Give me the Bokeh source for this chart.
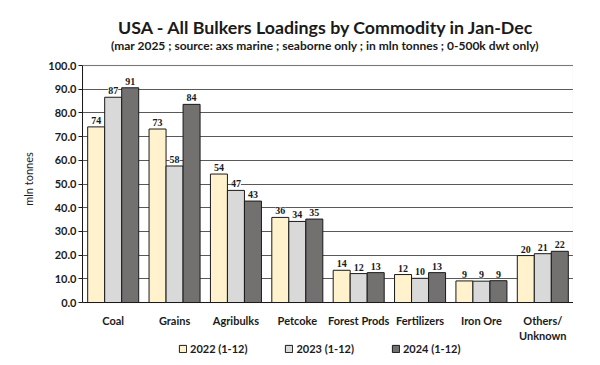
from bokeh.plotting import figure
from bokeh.models import (ColumnDataSource, LabelSet, Label, Legend, LegendItem, Title,
                          NumeralTickFormatter, FixedTicker, Range1d, FactorRange,
                          BoxAnnotation)
from bokeh.transform import dodge
from bokeh.embed import file_html
from bokeh.resources import INLINE

categories = ["Coal", "Grains", "Agribulks", "Petcoke", "Forest Prods",
              "Fertilizers", "Iron Ore", "Others/\nUnknown"]
series_names = ["2022 (1-12)", "2023 (1-12)", "2024 (1-12)"]
v2022 = [74.1, 73.2, 54.2, 35.9, 13.6, 11.8, 9.1, 19.8]
v2023 = [86.6, 57.6, 47.3, 34.2, 12.2, 10.2, 9.0, 20.6]
v2024 = [90.6, 83.6, 42.8, 35.2, 12.6, 12.6, 9.2, 21.6]
y_ticks = [0, 10, 20, 30, 40, 50, 60, 70, 80, 90, 100]
title_text = "USA - All Bulkers Loadings by Commodity in Jan-Dec"
subtitle_text = "(mar 2025 ; source: axs marine ; seaborne only ; in mln tonnes ; 0-500k dwt only)"

colors = ["#FFF2CC", "#D9D9D9", "#737070"]
FONT = "Lato"

# vertical layout: the frame covers the whole figure height; the value axis
# occupies 237 px (0..100), with room above for titles and below for labels/legend
PX_PER_UNIT = 237 / 100.0
y_lo = y_ticks[0] - 55 / PX_PER_UNIT
y_hi = y_ticks[-1] + 65 / PX_PER_UNIT

p = figure(x_range=FactorRange(*categories), y_range=Range1d(y_lo, y_hi),
           frame_width=491, frame_height=357, output_backend="svg",
           toolbar_location=None, title=None,
           min_border_left=0, min_border_right=0,
           min_border_top=0, min_border_bottom=0)

src = ColumnDataSource(dict(cat=categories, a=v2022, b=v2023, c=v2024,
                            la=[f"{v:.0f}" for v in v2022],
                            lb=[f"{v:.0f}" for v in v2023],
                            lc=[f"{v:.0f}" for v in v2024]))

# plot-area border (light grey) behind everything
p.add_layout(BoxAnnotation(bottom=y_ticks[0], top=y_ticks[-1], fill_color=None,
                           line_color="#BFBFBF", line_width=1.5, level="underlay"))

w = 0.277
items = []
for off, col, lab, color, name in [(-w, "a", "la", colors[0], series_names[0]),
                                   (0.0, "b", "lb", colors[1], series_names[1]),
                                   (w, "c", "lc", colors[2], series_names[2])]:
    r = p.vbar(x=dodge("cat", off, range=p.x_range), top=col, width=w, source=src,
               fill_color=color, line_color="#1a1a1a", line_width=1)
    items.append(LegendItem(label=name, renderers=[r]))
    ls = LabelSet(x=dodge("cat", off, range=p.x_range), y=col, text=lab, source=src,
                  text_align="center", text_baseline="bottom", y_offset=3,
                  text_font=FONT, text_font_style="bold", text_font_size="10px",
                  text_color="#1a1a1a", background_fill_color="white")
    p.add_layout(ls)

# y axis
p.yaxis.ticker = FixedTicker(ticks=y_ticks)
p.yaxis.bounds = (y_ticks[0], y_ticks[-1])
p.yaxis.formatter = NumeralTickFormatter(format="0.0")
p.yaxis.major_label_text_font = FONT
p.yaxis.major_label_text_font_style = "bold"
p.yaxis.major_label_text_font_size = "11px"
p.yaxis.major_label_text_color = "#1a1a1a"
p.yaxis.major_label_standoff = 2
p.yaxis.axis_line_color = "#1a1a1a"
p.yaxis.major_tick_line_color = "#1a1a1a"
p.yaxis.major_tick_out = 4
p.yaxis.major_tick_in = 0
p.yaxis.minor_tick_line_color = None
p.yaxis.axis_label = "mln tonnes"
p.yaxis.axis_label_text_font = FONT
p.yaxis.axis_label_text_font_style = "normal"
p.yaxis.axis_label_text_font_size = "11px"
p.yaxis.axis_label_text_color = "#1a1a1a"
p.yaxis.axis_label_standoff = 10

# x axis drawn at value 0
p.xaxis.fixed_location = y_ticks[0]
p.xaxis.major_label_text_font = FONT
p.xaxis.major_label_text_font_style = "bold"
p.xaxis.major_label_text_font_size = "11px"
p.xaxis.major_label_text_color = "#1a1a1a"
p.xaxis.axis_line_color = "#1a1a1a"
p.xaxis.major_tick_line_color = None
p.xaxis.major_tick_out = 0
p.xaxis.major_tick_in = 0
p.xaxis.minor_tick_line_color = None
p.xaxis.major_label_standoff = 11

p.xgrid.grid_line_color = None
p.ygrid.grid_line_color = "#595959"
p.ygrid.grid_line_width = 1
p.outline_line_color = None

legend = Legend(items=items, orientation="horizontal", location=(96, 2),
                label_text_font=FONT, label_text_font_style="bold",
                label_text_font_size="11px", label_text_color="#1a1a1a",
                glyph_width=9, glyph_height=9, label_height=12,
                spacing=37, padding=0, margin=0,
                border_line_color=None, background_fill_alpha=0, label_standoff=3)
p.add_layout(legend)

# titles, centred over the plot area
mid = len(categories) / 2.0
p.add_layout(Label(x=mid, y=y_ticks[-1] + 39 / PX_PER_UNIT, x_offset=-1.5,
                   text=title_text, text_align="center", text_baseline="middle",
                   text_font=FONT, text_font_style="bold", text_font_size="17.8px",
                   text_color="#1a1a1a"))
p.add_layout(Label(x=mid, y=y_ticks[-1] + 20.5 / PX_PER_UNIT, x_offset=-3,
                   text=subtitle_text, text_align="center", text_baseline="middle",
                   text_font=FONT, text_font_style="bold", text_font_size="12px",
                   text_color="#1a1a1a"))

# spacer on the far left
p.add_layout(Title(text=" ", text_font_size="15px", standoff=0), "left")

open("out.html", "w").write(file_html(p, INLINE))
